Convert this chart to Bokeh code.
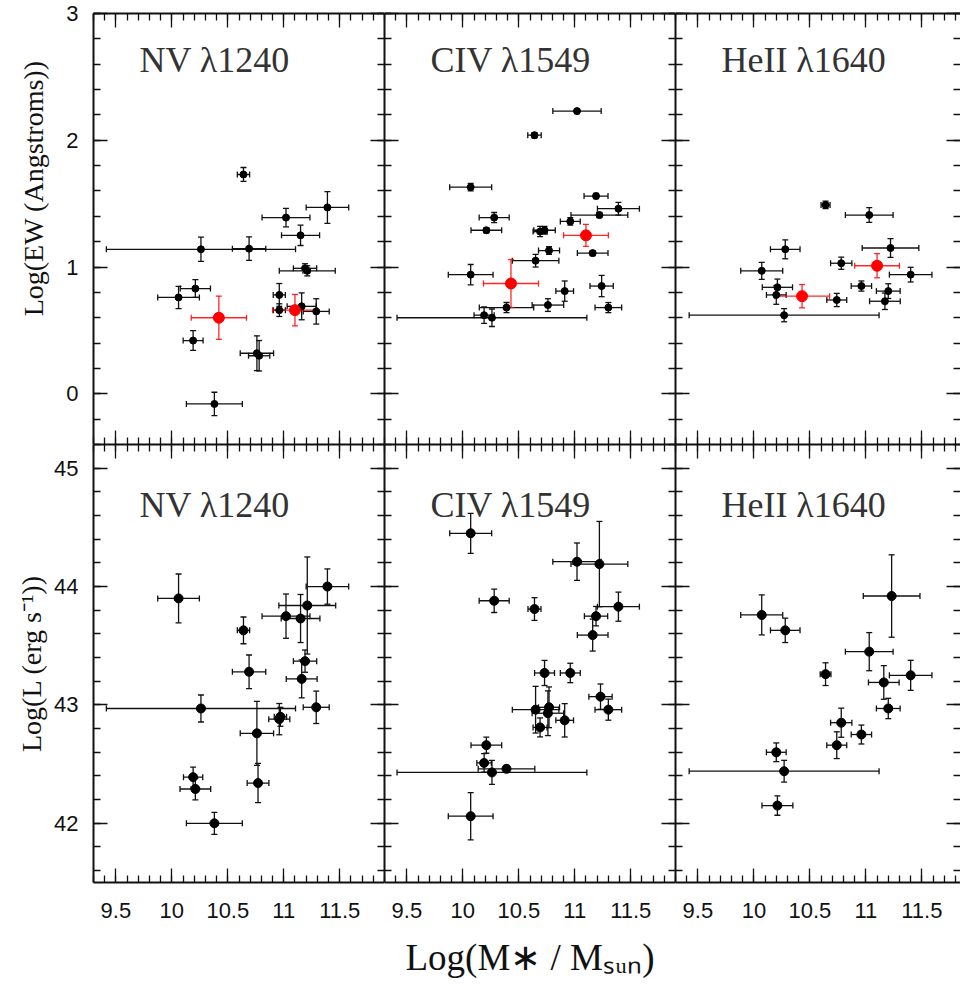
from bokeh.plotting import figure
from bokeh.models import (ColumnDataSource, Whisker, TeeHead, Label, Title, LinearAxis,
                          SingleIntervalTicker, Range1d, CustomJSTickFormatter,
                          CustomLabelingPolicy)
from bokeh.layouts import gridplot
from bokeh.embed import file_html
from bokeh.resources import INLINE

# ---------------- data ----------------
line_names = ["NV λ1240", "CIV λ1549", "HeII λ1640"]

# Row 1: Log(EW)
nv_ew_x = [10.64, 11.39, 11.02, 11.15, 10.26, 10.69, 11.19, 11.21, 10.21, 10.06, 10.96, 10.96, 11.16, 11.29, 10.19, 10.76, 10.78, 10.38]
nv_ew_xerr = [0.055, 0.19, 0.214, 0.17, 0.845, 0.149, 0.104, 0.25, 0.135, 0.186, 0.054, 0.054, 0.13, 0.116, 0.089, 0.149, 0.095, 0.25]
nv_ew_y = [1.73, 1.47, 1.39, 1.25, 1.14, 1.145, 0.99, 0.97, 0.83, 0.76, 0.78, 0.66, 0.69, 0.65, 0.42, 0.32, 0.30, -0.08]
nv_ew_yerr = [0.055, 0.125, 0.073, 0.08, 0.096, 0.093, 0.036, 0.04, 0.07, 0.088, 0.09, 0.05, 0.106, 0.10, 0.078, 0.137, 0.12, 0.092]
nv_ew_red_x = [10.42, 11.10]
nv_ew_red_xerr = [0.247, 0.2]
nv_ew_red_y = [0.60, 0.66]
nv_ew_red_yerr = [0.171, 0.124]

civ_ew_x = [11.02, 10.64, 10.07, 11.19, 11.39, 11.22, 10.28, 10.96, 10.21, 10.69, 10.73, 10.77, 11.16, 10.65, 10.07, 11.24, 10.91, 10.76, 11.30, 10.39, 10.19, 10.26]
civ_ew_xerr = [0.216, 0.06, 0.1875, 0.107, 0.1875, 0.254, 0.134, 0.089, 0.137, 0.0625, 0.096, 0.094, 0.137, 0.208, 0.2, 0.104, 0.079, 0.141, 0.119, 0.243, 0.09, 0.848]
civ_ew_y = [2.23, 2.04, 1.63, 1.56, 1.46, 1.41, 1.39, 1.36, 1.29, 1.28, 1.29, 1.13, 1.11, 1.05, 0.94, 0.85, 0.81, 0.70, 0.68, 0.68, 0.62, 0.60]
civ_ew_yerr = [0.02, 0.02, 0.03, 0.02, 0.05, 0.02, 0.04, 0.03, 0.02, 0.04, 0.03, 0.03, 0.02, 0.05, 0.08, 0.084, 0.08, 0.05, 0.04, 0.04, 0.065, 0.069]
civ_ew_red_x = [10.43, 11.10]
civ_ew_red_xerr = [0.246, 0.2]
civ_ew_red_y = [0.87, 1.25]
civ_ew_red_yerr = [0.189, 0.087]

heii_ew_x = [10.64, 11.03, 10.28, 11.22, 10.78, 10.07, 11.40, 10.96, 10.21, 11.20, 10.20, 10.74, 11.17, 10.27]
heii_ew_xerr = [0.04, 0.213, 0.132, 0.253, 0.095, 0.1875, 0.19, 0.091, 0.135, 0.106, 0.088, 0.089, 0.137, 0.848]
heii_ew_y = [1.49, 1.41, 1.14, 1.15, 1.03, 0.97, 0.94, 0.85, 0.84, 0.81, 0.78, 0.74, 0.73, 0.62]
heii_ew_yerr = [0.03, 0.058, 0.075, 0.074, 0.048, 0.067, 0.058, 0.04, 0.065, 0.058, 0.074, 0.052, 0.065, 0.052]
heii_ew_red_x = [10.43, 11.10]
heii_ew_red_xerr = [0.246, 0.2]
heii_ew_red_y = [0.77, 1.01]
heii_ew_red_yerr = [0.092, 0.095]

# Row 2: Log(L)
nv_l_x = [10.06, 10.64, 10.69, 10.26, 11.02, 11.15, 11.21, 11.39, 11.19, 11.16, 11.29, 10.96, 10.97, 10.76, 10.19, 10.21, 10.77, 10.38]
nv_l_xerr = [0.186, 0.055, 0.149, 0.845, 0.214, 0.173, 0.254, 0.19, 0.104, 0.138, 0.116, 0.094, 0.055, 0.149, 0.086, 0.137, 0.097, 0.25]
nv_l_y = [43.90, 43.63, 43.28, 42.97, 43.75, 43.73, 43.84, 44.00, 43.37, 43.22, 42.98, 42.88, 42.90, 42.76, 42.39, 42.29, 42.34, 42.00]
nv_l_yerr = [0.206, 0.113, 0.142, 0.114, 0.187, 0.203, 0.41, 0.149, 0.094, 0.16, 0.137, 0.132, 0.08, 0.27, 0.085, 0.092, 0.166, 0.093]

civ_l_x = [10.07, 11.02, 11.22, 10.28, 10.64, 11.39, 11.19, 11.16, 10.73, 10.96, 11.23, 11.30, 10.65, 10.77, 10.76, 10.91, 10.69, 10.21, 10.19, 10.26, 10.39, 10.07]
civ_l_xerr = [0.1875, 0.216, 0.254, 0.134, 0.058, 0.1875, 0.104, 0.137, 0.089, 0.089, 0.104, 0.119, 0.208, 0.094, 0.141, 0.079, 0.0625, 0.137, 0.065, 0.848, 0.253, 0.2]
civ_l_y = [44.45, 44.21, 44.19, 43.88, 43.81, 43.83, 43.75, 43.59, 43.27, 43.27, 43.07, 42.96, 42.96, 42.98, 42.93, 42.87, 42.81, 42.66, 42.51, 42.43, 42.46, 42.06]
civ_l_yerr = [0.169, 0.158, 0.36, 0.099, 0.096, 0.123, 0.082, 0.135, 0.106, 0.082, 0.107, 0.089, 0.197, 0.172, 0.189, 0.141, 0.08, 0.068, 0.078, 0.101, 0.03, 0.2]

heii_l_x = [11.23, 10.07, 10.28, 11.03, 10.64, 11.40, 11.16, 11.20, 10.78, 10.96, 10.74, 10.20, 10.27, 10.21]
heii_l_xerr = [0.253, 0.1875, 0.132, 0.213, 0.048, 0.19, 0.137, 0.106, 0.095, 0.091, 0.089, 0.088, 0.848, 0.138]
heii_l_y = [43.92, 43.76, 43.63, 43.45, 43.26, 43.25, 43.19, 42.97, 42.85, 42.75, 42.66, 42.60, 42.44, 42.15]
heii_l_yerr = [0.348, 0.169, 0.103, 0.161, 0.096, 0.127, 0.142, 0.086, 0.123, 0.08, 0.113, 0.079, 0.092, 0.082]

# ---------------- styling ----------------
SERIF = "Liberation Serif"
SANS = "Liberation Sans"
INK = "#111111"

NO_LABELS = """
const all = [];
for (const i of indices) all.push(i);
for (const i of all) indices.unset(i);
return indices;
"""


def src(x, xe, y, ye):
    return ColumnDataSource(dict(
        x=x, y=y,
        xlo=[a - b for a, b in zip(x, xe)], xhi=[a + b for a, b in zip(x, xe)],
        ylo=[a - b for a, b in zip(y, ye)], yhi=[a + b for a, b in zip(y, ye)]))


def add_errors(p, s, color, alpha):
    kw = dict(line_color=color, line_width=1.3, line_alpha=alpha)
    p.add_layout(Whisker(source=s, base="x", lower="ylo", upper="yhi", dimension="height",
                         upper_head=TeeHead(size=6, **kw), lower_head=TeeHead(size=6, **kw), **kw))
    p.add_layout(Whisker(source=s, base="y", lower="xlo", upper="xhi", dimension="width",
                         upper_head=TeeHead(size=6, **kw), lower_head=TeeHead(size=6, **kw), **kw))


def make_axis(ticker, labels, line=True):
    ax = LinearAxis(ticker=ticker)
    ax.major_tick_in = 14
    ax.major_tick_out = 0
    ax.minor_tick_in = 7
    ax.minor_tick_out = 0
    ax.axis_line_width = 2
    ax.axis_line_color = INK if line else None
    ax.major_tick_line_color = INK
    ax.minor_tick_line_color = INK
    ax.major_tick_line_width = 1.3
    ax.minor_tick_line_width = 1.3
    if labels:
        ax.major_label_text_font = SANS
        ax.major_label_text_font_size = "22px"
        ax.major_label_text_color = INK
        ax.major_label_standoff = 15
    else:
        ax.major_label_text_font_size = "0px"
        ax.major_label_standoff = 0
        ax.major_label_policy = CustomLabelingPolicy(code=NO_LABELS)
    return ax


def make_panel(col, row, x, xe, y, ye, rx=None, rxe=None, ry=None, rye=None):
    top = row == 0
    first = col == 0
    last = col == 2
    fw = 285 if last else 291
    xr = Range1d(9.3, 11.845 if last else 11.9)
    yr = Range1d(-0.4, 3.0) if top else Range1d(41.5, 45.2)
    p = figure(frame_width=fw, frame_height=431 if top else 438,
               x_range=xr, y_range=yr, output_backend="svg", toolbar_location=None,
               x_axis_location=None, y_axis_location=None,
               min_border=0,
               min_border_left=93 if first else 0, min_border_right=0,
               min_border_top=13 if top else 0, min_border_bottom=0 if top else 106)
    p.outline_line_color = None
    p.xgrid.visible = False
    p.ygrid.visible = False
    p.background_fill_color = "white"
    p.border_fill_color = "white"

    fmt = CustomJSTickFormatter(code="return String(Math.round(tick*10)/10);")
    bottom_ax = make_axis(SingleIntervalTicker(interval=0.5, num_minor_ticks=5), not top)
    if not top:
        bottom_ax.formatter = fmt
        bottom_ax.major_label_standoff = 20
    top_ax = make_axis(SingleIntervalTicker(interval=0.5, num_minor_ticks=5), False)
    left_ax = make_axis(SingleIntervalTicker(interval=1, num_minor_ticks=5), first)
    right_ax = make_axis(SingleIntervalTicker(interval=1, num_minor_ticks=5), False, line=not last)

    if first and not top:
        left_ax.axis_label = "Log(L (erg s⁻¹))"
        left_ax.axis_label_text_font = SERIF
        left_ax.axis_label_text_font_size = "28px"
        left_ax.axis_label_text_font_style = "normal"
        left_ax.axis_label_text_color = INK
        left_ax.axis_label_standoff = 4
    if col == 1 and not top:
        bottom_ax.axis_label = "Log(M∗ / Mₛᵤₙ)"
        bottom_ax.axis_label_text_font = SERIF
        bottom_ax.axis_label_text_font_size = "37px"
        bottom_ax.axis_label_text_font_style = "normal"
        bottom_ax.axis_label_text_color = INK
        bottom_ax.axis_label_standoff = 16

    p.add_layout(bottom_ax, "below")
    p.add_layout(top_ax, "above")
    p.add_layout(left_ax, "left")
    p.add_layout(right_ax, "right")

    if first and top:
        p.add_layout(Title(text="Log(EW (Angstroms))", align="right", offset=47, standoff=30,
                           text_font=SERIF, text_font_size="28px", text_font_style="normal",
                           text_color=INK), "left")

    s = src(x, xe, y, ye)
    add_errors(p, s, INK, 1.0)
    p.scatter("x", "y", source=s, size=7 if top else 9, color="black")
    if rx is not None:
        rs = src(rx, rxe, ry, rye)
        add_errors(p, rs, "#ff0000", 0.85)
        p.scatter("x", "y", source=rs, size=11, color="#ff0000")

    p.add_layout(Label(x=9.71, y=2.63 if top else 44.685, text=line_names[col],
                       text_font=SERIF, text_font_size="36px", text_color="#333333",
                       text_align="left", text_baseline="alphabetic"))
    return p


p1 = make_panel(0, 0, nv_ew_x, nv_ew_xerr, nv_ew_y, nv_ew_yerr,
                nv_ew_red_x, nv_ew_red_xerr, nv_ew_red_y, nv_ew_red_yerr)
p2 = make_panel(1, 0, civ_ew_x, civ_ew_xerr, civ_ew_y, civ_ew_yerr,
                civ_ew_red_x, civ_ew_red_xerr, civ_ew_red_y, civ_ew_red_yerr)
p3 = make_panel(2, 0, heii_ew_x, heii_ew_xerr, heii_ew_y, heii_ew_yerr,
                heii_ew_red_x, heii_ew_red_xerr, heii_ew_red_y, heii_ew_red_yerr)
p4 = make_panel(0, 1, nv_l_x, nv_l_xerr, nv_l_y, nv_l_yerr)
p5 = make_panel(1, 1, civ_l_x, civ_l_xerr, civ_l_y, civ_l_yerr)
p6 = make_panel(2, 1, heii_l_x, heii_l_xerr, heii_l_y, heii_l_yerr)

grid = gridplot([[p1, p2, p3], [p4, p5, p6]], toolbar_location=None)

open("out.html", "w").write(file_html(grid, INLINE))
